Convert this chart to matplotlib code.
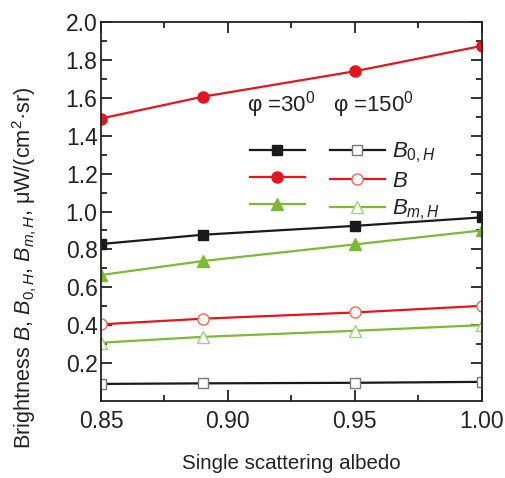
import matplotlib
matplotlib.use("Agg")
import matplotlib.pyplot as plt

plt.rcParams["font.family"] = ["Liberation Sans", "DejaVu Sans"]
plt.rcParams["mathtext.fontset"] = "custom"
plt.rcParams["mathtext.rm"] = "Liberation Sans"
plt.rcParams["mathtext.it"] = "Liberation Sans:italic"

albedo = [0.85, 0.89, 0.95, 1.00]

# phi = 30 deg (filled)
b0h_30 = [0.828, 0.877, 0.924, 0.969]
b_30 = [1.492, 1.607, 1.742, 1.876]
bmh_30 = [0.664, 0.738, 0.826, 0.900]

# phi = 150 deg (open)
b0h_150 = [0.088, 0.091, 0.094, 0.099]
b_150 = [0.403, 0.433, 0.466, 0.501]
bmh_150 = [0.306, 0.337, 0.369, 0.399]

labels = [r"$B_{0,H}$", r"$B$", r"$B_{m,H}$"]

BLACK = "#1a1a1a"
RED = "#e3161f"
GREEN = "#7cba35"
RED_OPEN = "#f06a4f"
GREEN_OPEN = "#9ed27a"
GRAY_OPEN = "#777777"
TXT = "#222222"

fig = plt.figure(figsize=(5.05, 4.78), dpi=100)
ax = fig.add_axes([0.2, 0.162, 0.754, 0.791])

lw = 1.6
ms = 7.5
h1, = ax.plot(albedo, b0h_30, "-s", color=BLACK, lw=lw, ms=ms - 0.5, mec=BLACK)
h2, = ax.plot(albedo, b_30, "-o", color=RED, lw=lw, ms=ms + 0.5, mec=RED)
h3, = ax.plot(albedo, bmh_30, "-^", color=GREEN, lw=lw, ms=ms + 0.5, mec=GREEN)
h4, = ax.plot(albedo, b0h_150, "-s", color=BLACK, lw=lw, ms=ms - 0.5,
              mfc="white", mec=GRAY_OPEN, mew=1.0)
h5, = ax.plot(albedo, b_150, "-o", color=RED, lw=lw, ms=ms + 0.5,
              mfc="white", mec=RED_OPEN, mew=1.0)
h6, = ax.plot(albedo, bmh_150, "-^", color=GREEN, lw=lw, ms=ms + 1,
              mfc="white", mec=GREEN_OPEN, mew=1.0)

ax.set_xlim(0.85, 1.00)
ax.set_ylim(0, 2.0)
ax.set_xticks([0.85, 0.90, 0.95, 1.00])
ax.set_xticks([0.875, 0.925, 0.975], minor=True)
ax.set_yticks([0.2, 0.4, 0.6, 0.8, 1.0, 1.2, 1.4, 1.6, 1.8, 2.0])
ax.set_yticks([0.1, 0.3, 0.5, 0.7, 0.9, 1.1, 1.3, 1.5, 1.7, 1.9], minor=True)
ax.set_xticklabels(["0.85", "0.90", "0.95", "1.00"])
ax.set_yticklabels(["0.2", "0.4", "0.6", "0.8", "1.0", "1.2", "1.4", "1.6", "1.8", "2.0"])
ax.tick_params(which="both", direction="in", right=True, top=True,
               width=1.3, color=TXT, labelsize=16.5, labelcolor=TXT)
ax.tick_params(which="major", length=8)
ax.tick_params(which="minor", length=4.5)
ax.tick_params(axis="x", which="major", pad=7)
ax.tick_params(axis="y", which="major", pad=2.5)
for s in ax.spines.values():
    s.set_linewidth(1.3)
    s.set_color(TXT)

ax.set_xlabel("Single scattering albedo", fontsize=14.8, color=TXT, labelpad=15)
ax.set_ylabel(r"Brightness $B$, $B_{0,H}$, $B_{m,H}$, μW/(cm$^2$·sr)",
              fontsize=15.6, color=TXT)
ax.yaxis.set_label_coords(-0.163, 0.35)

leg = ax.legend([h1, h2, h3, h4, h5, h6], ["", "", ""] + labels, ncol=2,
                loc="upper left", bbox_to_anchor=(0.391, 0.688),
                frameon=False, fontsize=16, handlelength=2.48,
                handletextpad=0.3, columnspacing=0.82, labelspacing=0.27,
                borderpad=0, borderaxespad=0)
for t in leg.get_texts():
    t.set_color(TXT)

ax.text(0.384, 0.784, r"φ =30$^0$", transform=ax.transAxes, fontsize=16,
        va="center", ha="left", color=TXT)
ax.text(0.61, 0.784, r"φ =150$^0$", transform=ax.transAxes, fontsize=16,
        va="center", ha="left", color=TXT)

fig.savefig("out.png", dpi=100)
